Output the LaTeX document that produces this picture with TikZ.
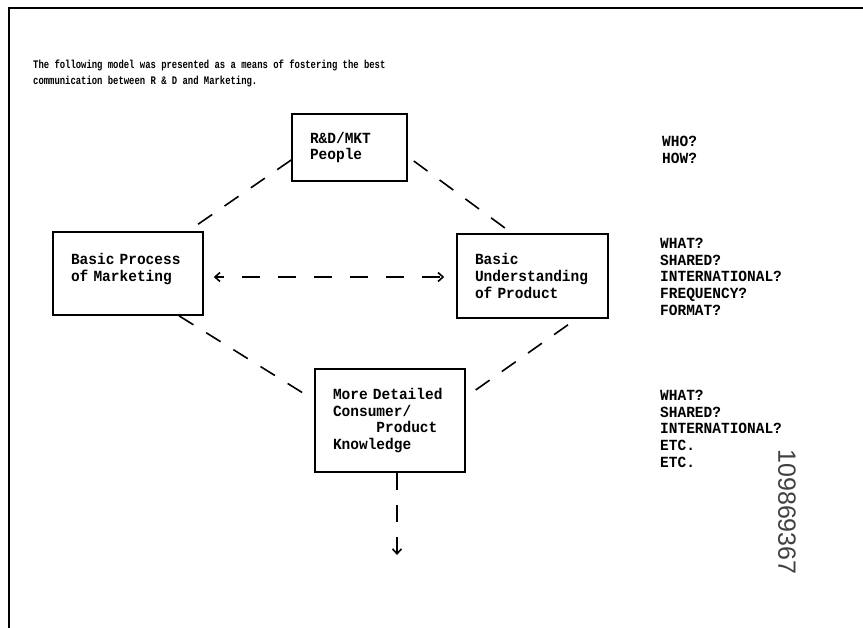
\documentclass[tikz,border=0pt]{standalone}
\usepackage{fontspec}
\usetikzlibrary{arrows.meta}
\newfontfamily\typefont[FakeStretch=0.935]{Liberation Mono}
\newfontfamily\headfont[FakeStretch=0.77]{Liberation Mono}
\newfontfamily\stampfont{Liberation Sans}

\begin{document}
\begin{tikzpicture}[x=1pt, y=-1pt]
	\tikzset{>={Straight Barb[length=5pt,width=9pt]},
		box/.style={draw, line width=1.6pt, inner xsep=18pt, inner ysep=0pt, align=left, font={\typefont\bfseries\fontsize{15.5pt}{16.7pt}\selectfont}},
		link/.style={line width=1.6pt, dash pattern=on 17pt off 15pt},
		notes/.style={anchor=north west, inner sep=0pt, align=left, font={\typefont\bfseries\fontsize{15.5pt}{16.7pt}\selectfont}}}

	\useasboundingbox (0,0) rectangle (863,628);
	\draw[line width=2pt] (9,628) -- (9,8) -- (863,8);

	% heading
	\node[anchor=north west, inner sep=0pt, align=left, font={\headfont\bfseries\fontsize{11.55pt}{15.5pt}\selectfont}] (intro) at (33,60)
		{The following model was presented as a means of fostering the best\\communication between R \& D and Marketing.};

	% the four boxes
	\node[box, text width=79pt, minimum height=67pt] (rd) at (349.5,147.5) {R\&D/MKT\\People};
	\node[box, text width=114pt, minimum height=83pt] (bp) at (128,273.5) {Basic Process\\of Marketing\\[-4pt]\mbox{}};
	\node[box, text width=115pt, minimum height=84pt] (bu) at (532.5,276) {Basic\\Understanding\\of Product};
	\node[box, text width=114pt, minimum height=103pt] (md) at (390,420.5) {More Detailed\\Consumer/\\\phantom{Consu}Product\\Knowledge};
	\coordinate (nextstep) at (397,555);

	% questions on the right
	\node[notes] (qrd) at (662,136) {WHO?\\HOW?};
	\node[notes] (qbu) at (660,238) {WHAT?\\SHARED?\\INTERNATIONAL?\\FREQUENCY?\\FORMAT?};
	\node[notes] (qmd) at (660,390) {WHAT?\\SHARED?\\INTERNATIONAL?\\ETC.\\ETC.};

	\node[rotate=-90, inner sep=0pt, text=black!75, font={\stampfont\fontsize{25pt}{25pt}\selectfont}] (docid) at (787,512) {109869367};

	% dashed links
	\draw[link] ([yshift=-12.5pt]rd.west) -- ([xshift=60pt]bp.north);
	\draw[link] ([xshift=6pt,yshift=-13.5pt]rd.east) -- ([xshift=-20.5pt]bu.north);
	\draw[link] ([xshift=51pt]bp.south) -- ([yshift=20.5pt]md.west);
	\draw[link] ([xshift=35.5pt,yshift=-6pt]bu.south) -- ([yshift=23.5pt]md.east);
	\draw[link, <->, dash pattern=on 18pt off 18pt, dash phase=10pt] ([xshift=10pt,yshift=-3.5pt]bp.east) -- ([xshift=-12pt,yshift=-1pt]bu.west);
	\draw[link, ->] ([xshift=7pt]md.south) -- (nextstep);
\end{tikzpicture}
\end{document}
